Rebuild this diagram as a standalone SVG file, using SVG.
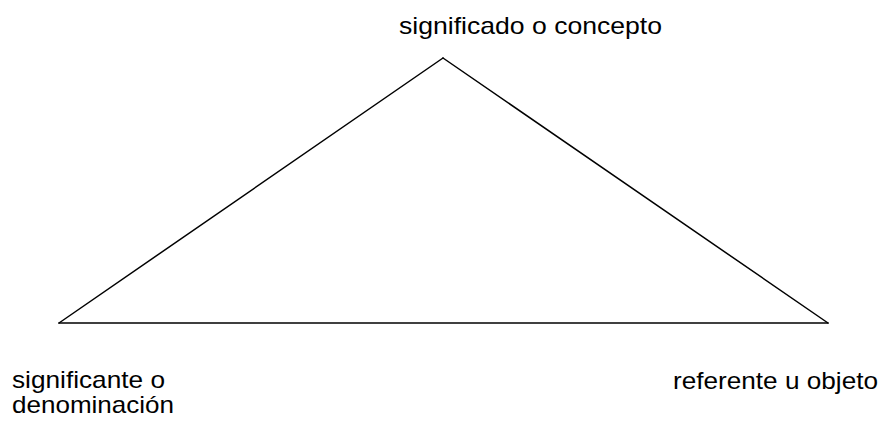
<svg xmlns="http://www.w3.org/2000/svg" width="882" height="421" viewBox="0 0 882 421">
<style>
text { font-family: "Liberation Sans", Arial, sans-serif; font-size: 24px; fill: #000; }
.edge { stroke: #000; stroke-width: 1.5; fill: none; stroke-linecap: round; }
</style>
<rect width="882" height="421" fill="#fff"/>
<g id="connectors">
<line class="edge" x1="443" y1="58" x2="59" y2="323"/>
<line class="edge" x1="443" y1="58" x2="828" y2="323"/>
<line class="edge" x1="59" y1="323" x2="828" y2="323"/>
</g>
<g id="top">
<text x="399" y="34" textLength="263" lengthAdjust="spacingAndGlyphs">significado o concepto</text>
</g>
<g id="left">
<text x="12" y="388" textLength="153" lengthAdjust="spacingAndGlyphs">significante o</text>
<text x="12" y="413" textLength="162" lengthAdjust="spacingAndGlyphs">denominación</text>
</g>
<g id="right">
<text x="673" y="389" textLength="205" lengthAdjust="spacingAndGlyphs">referente u objeto</text>
</g>
</svg>
